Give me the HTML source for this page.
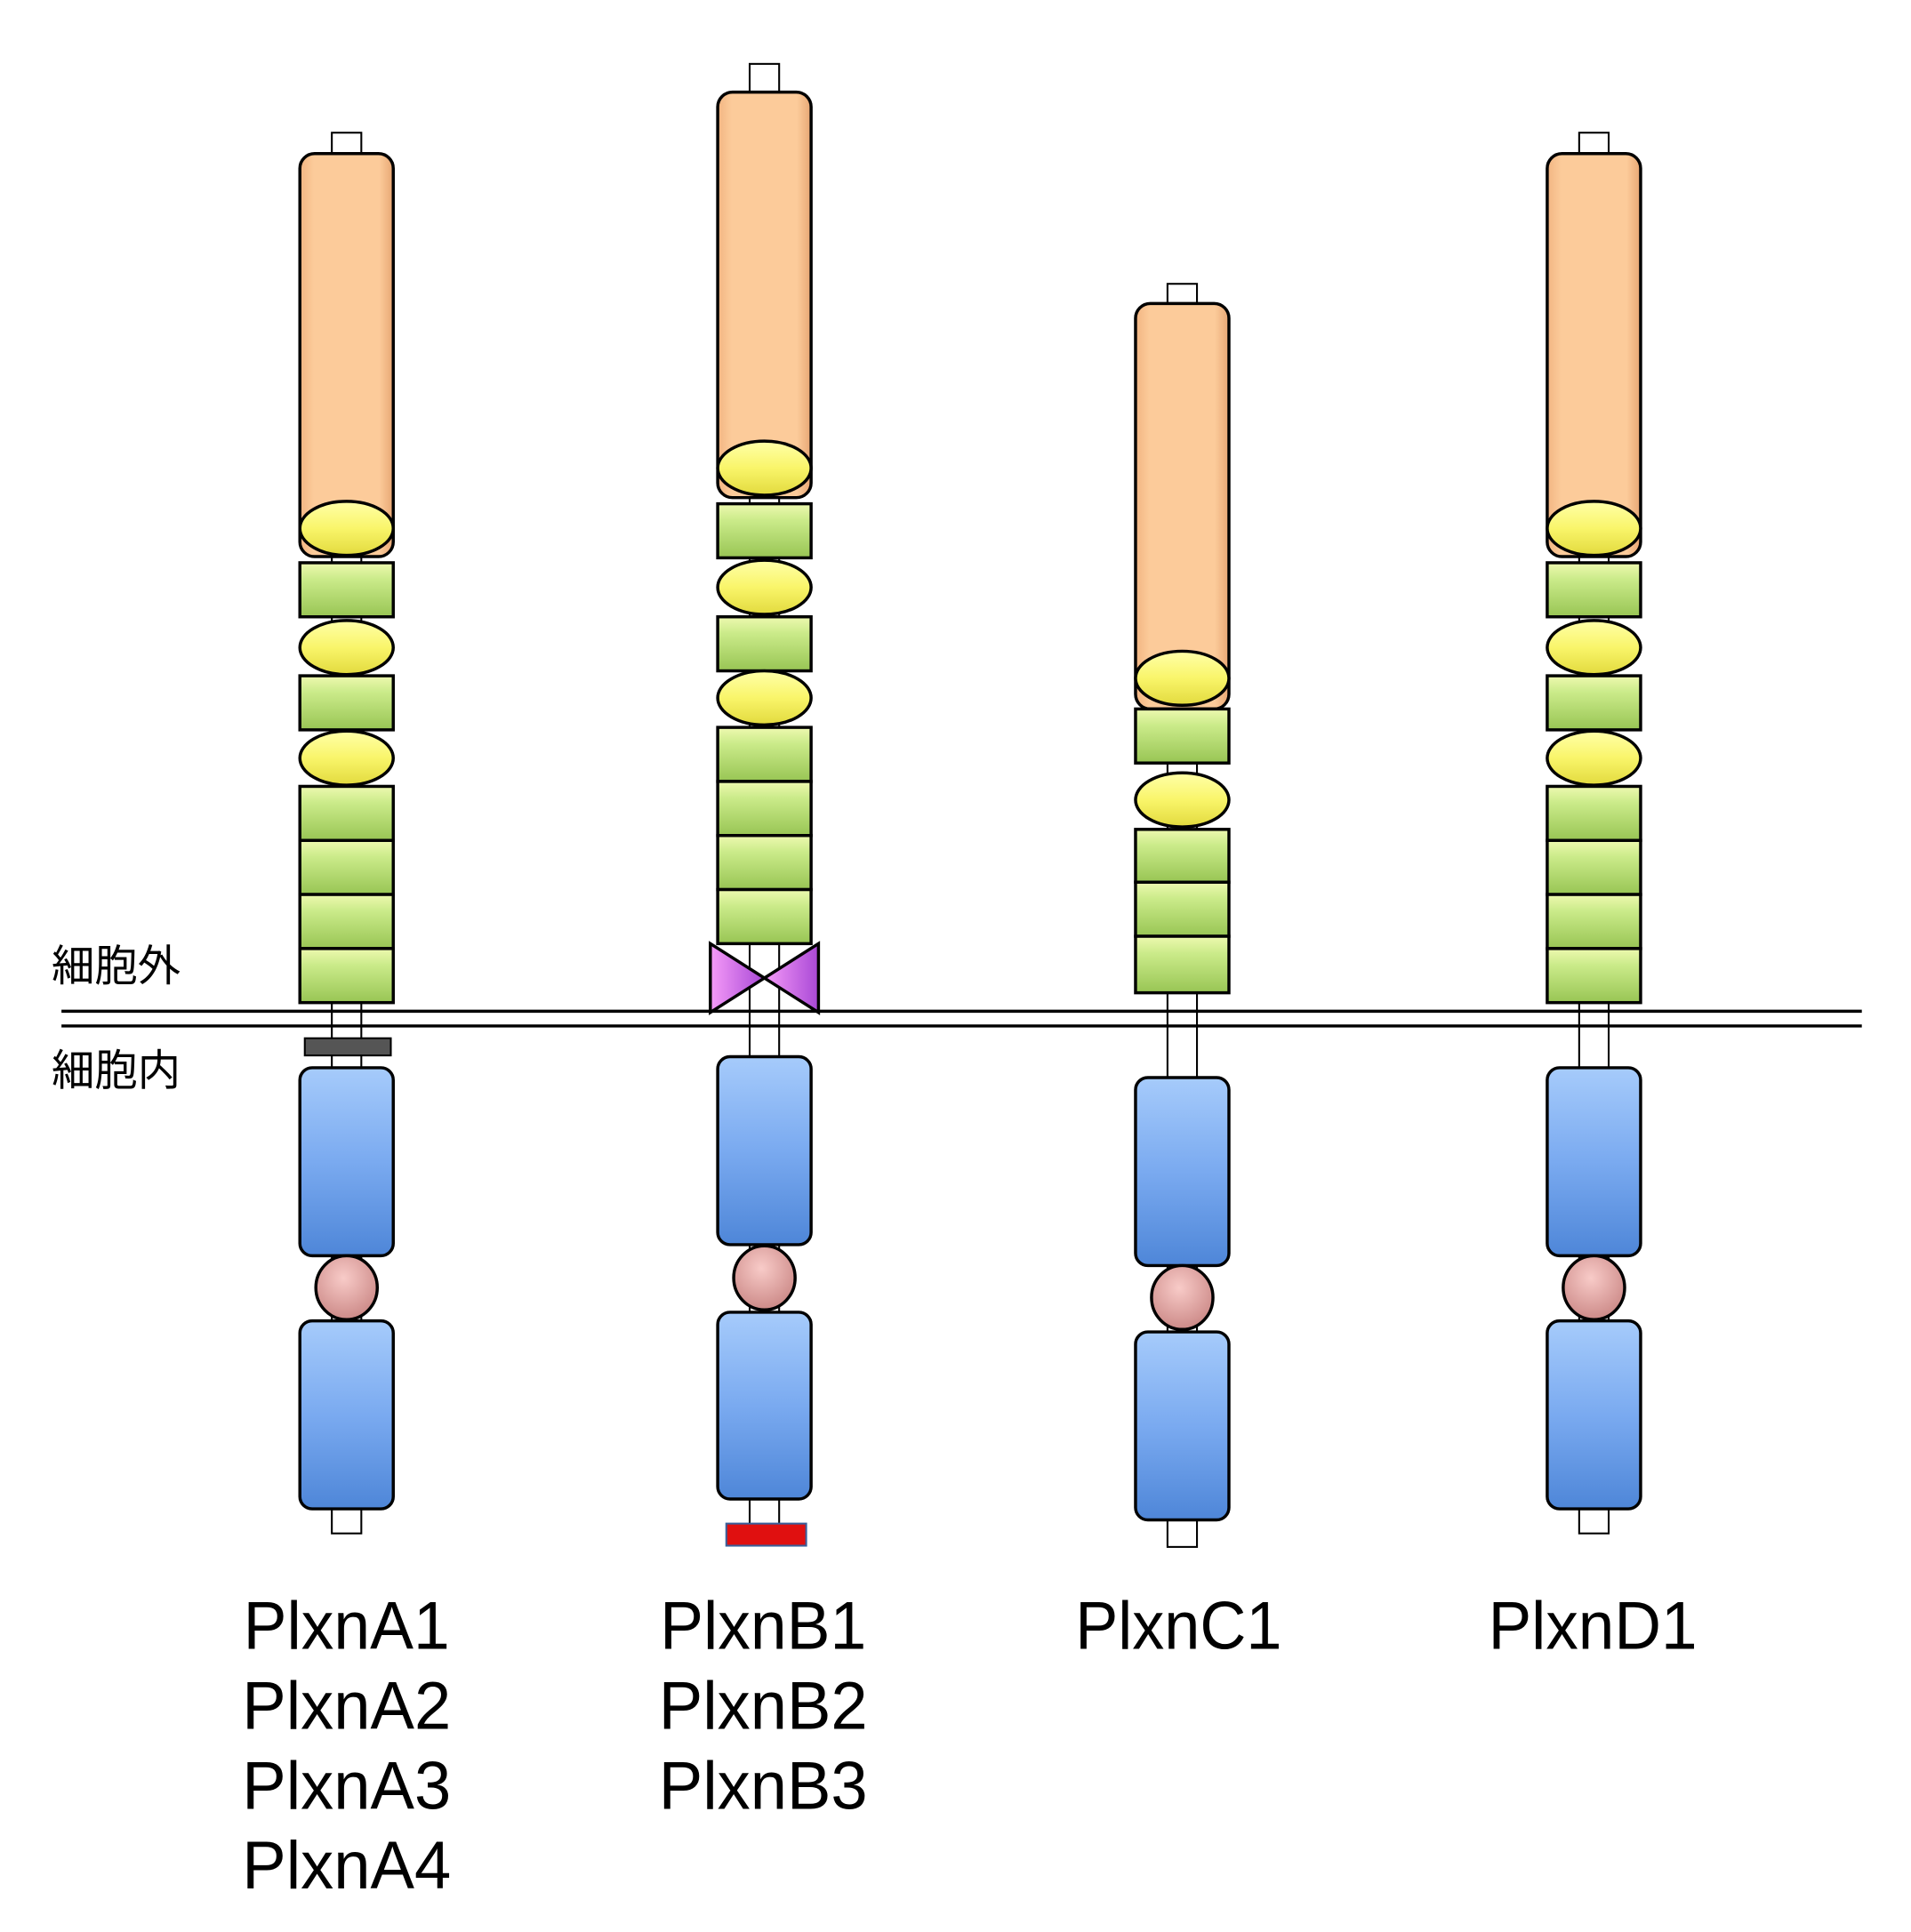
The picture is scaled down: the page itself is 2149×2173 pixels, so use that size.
<!DOCTYPE html>
<html><head><meta charset="utf-8"><style>html,body{margin:0;padding:0;background:#fff}svg{display:block}</style></head>
<body>
<svg width="2149" height="2173" viewBox="0 0 1555 1572.4" xmlns="http://www.w3.org/2000/svg">
<defs>
<linearGradient id="or" x1="0" y1="0" x2="1" y2="0"><stop offset="0" stop-color="#F2B582"/><stop offset="0.15" stop-color="#FCCB9A"/><stop offset="0.85" stop-color="#FCCB9A"/><stop offset="1" stop-color="#E7A673"/></linearGradient>
<linearGradient id="gr" x1="0" y1="0" x2="0" y2="1"><stop offset="0" stop-color="#EEF9B0"/><stop offset="0.3" stop-color="#CBEB8A"/><stop offset="1" stop-color="#98C554"/></linearGradient>
<linearGradient id="bl" x1="0" y1="0" x2="0" y2="1"><stop offset="0" stop-color="#A6CBFB"/><stop offset="0.5" stop-color="#7AAAF0"/><stop offset="1" stop-color="#4E86D8"/></linearGradient>
<linearGradient id="ye" x1="0" y1="0" x2="0" y2="1"><stop offset="0" stop-color="#FFFFA8"/><stop offset="0.5" stop-color="#F9F56A"/><stop offset="1" stop-color="#E2DA3E"/></linearGradient>
<radialGradient id="pk" cx="0.45" cy="0.35" r="0.7"><stop offset="0" stop-color="#F8CBC8"/><stop offset="1" stop-color="#C98583"/></radialGradient>
<linearGradient id="pu" x1="0" y1="0" x2="1" y2="0"><stop offset="0" stop-color="#F59BF8"/><stop offset="1" stop-color="#A948D6"/></linearGradient>
</defs>
<g stroke="#000" stroke-width="2.5">
<!-- Column A -->
<g transform="translate(282,0)">
<rect x="-12" y="108" width="24" height="1140" fill="#fff" stroke-width="1.5"/>
<rect x="-38" y="125" width="76" height="328" rx="12" fill="url(#or)"/>
<ellipse cx="0" cy="430" rx="38" ry="22" fill="url(#ye)"/>
<rect x="-38" y="458" width="76" height="44" fill="url(#gr)"/>
<ellipse cx="0" cy="527" rx="38" ry="22" fill="url(#ye)"/>
<rect x="-38" y="550" width="76" height="44" fill="url(#gr)"/>
<ellipse cx="0" cy="617" rx="38" ry="22" fill="url(#ye)"/>
<rect x="-38" y="640" width="76" height="44" fill="url(#gr)"/>
<rect x="-38" y="684" width="76" height="44" fill="url(#gr)"/>
<rect x="-38" y="728" width="76" height="44" fill="url(#gr)"/>
<rect x="-38" y="772" width="76" height="44" fill="url(#gr)"/>
<rect x="-34" y="845" width="70" height="14" fill="#555" stroke-width="1.5"/>
<rect x="-38" y="869" width="76" height="153" rx="10" fill="url(#bl)"/>
<ellipse cx="0" cy="1048" rx="25" ry="26" fill="url(#pk)"/>
<rect x="-38" y="1075" width="76" height="153" rx="10" fill="url(#bl)"/>
</g>
<!-- Column B -->
<g transform="translate(622,0)">
<rect x="-12" y="52" width="24" height="1190" fill="#fff" stroke-width="1.5"/>
<rect x="-38" y="75" width="76" height="330" rx="12" fill="url(#or)"/>
<ellipse cx="0" cy="381" rx="38" ry="22" fill="url(#ye)"/>
<rect x="-38" y="410" width="76" height="44" fill="url(#gr)"/>
<ellipse cx="0" cy="478" rx="38" ry="22" fill="url(#ye)"/>
<rect x="-38" y="502" width="76" height="44" fill="url(#gr)"/>
<ellipse cx="0" cy="568" rx="38" ry="22" fill="url(#ye)"/>
<rect x="-38" y="592" width="76" height="44" fill="url(#gr)"/>
<rect x="-38" y="636" width="76" height="44" fill="url(#gr)"/>
<rect x="-38" y="680" width="76" height="44" fill="url(#gr)"/>
<rect x="-38" y="724" width="76" height="44" fill="url(#gr)"/>
<polygon points="-44,768 0,796 -44,824" fill="url(#pu)"/>
<polygon points="44,768 0,796 44,824" fill="url(#pu)"/>
<rect x="-38" y="860" width="76" height="153" rx="10" fill="url(#bl)"/>
<ellipse cx="0" cy="1040" rx="25" ry="26" fill="url(#pk)"/>
<rect x="-38" y="1068" width="76" height="152" rx="10" fill="url(#bl)"/>
<rect x="-31" y="1240" width="65" height="18" fill="#E01010" stroke="#3A5F9A" stroke-width="1.5"/>
</g>
<!-- Column C -->
<g transform="translate(962,0)">
<rect x="-12" y="231" width="24" height="1028" fill="#fff" stroke-width="1.5"/>
<rect x="-38" y="247" width="76" height="330" rx="12" fill="url(#or)"/>
<ellipse cx="0" cy="552" rx="38" ry="22" fill="url(#ye)"/>
<rect x="-38" y="577" width="76" height="44" fill="url(#gr)"/>
<ellipse cx="0" cy="651" rx="38" ry="22" fill="url(#ye)"/>
<rect x="-38" y="675" width="76" height="43" fill="url(#gr)"/>
<rect x="-38" y="718" width="76" height="44" fill="url(#gr)"/>
<rect x="-38" y="762" width="76" height="46" fill="url(#gr)"/>
<rect x="-38" y="877" width="76" height="153" rx="10" fill="url(#bl)"/>
<ellipse cx="0" cy="1056" rx="25" ry="26" fill="url(#pk)"/>
<rect x="-38" y="1084" width="76" height="153" rx="10" fill="url(#bl)"/>
</g>
<!-- Column D -->
<g transform="translate(1297,0)">
<rect x="-12" y="108" width="24" height="1140" fill="#fff" stroke-width="1.5"/>
<rect x="-38" y="125" width="76" height="328" rx="12" fill="url(#or)"/>
<ellipse cx="0" cy="430" rx="38" ry="22" fill="url(#ye)"/>
<rect x="-38" y="458" width="76" height="44" fill="url(#gr)"/>
<ellipse cx="0" cy="527" rx="38" ry="22" fill="url(#ye)"/>
<rect x="-38" y="550" width="76" height="44" fill="url(#gr)"/>
<ellipse cx="0" cy="617" rx="38" ry="22" fill="url(#ye)"/>
<rect x="-38" y="640" width="76" height="44" fill="url(#gr)"/>
<rect x="-38" y="684" width="76" height="44" fill="url(#gr)"/>
<rect x="-38" y="728" width="76" height="44" fill="url(#gr)"/>
<rect x="-38" y="772" width="76" height="44" fill="url(#gr)"/>
<rect x="-38" y="869" width="76" height="153" rx="10" fill="url(#bl)"/>
<ellipse cx="0" cy="1048" rx="25" ry="26" fill="url(#pk)"/>
<rect x="-38" y="1075" width="76" height="153" rx="10" fill="url(#bl)"/>
</g>
<line x1="50" y1="823" x2="1515" y2="823"/>
<line x1="50" y1="835" x2="1515" y2="835"/>
</g>
<g font-family="'Noto Sans CJK JP', sans-serif" font-size="35" fill="#000">
<text x="42" y="798">細胞外</text>
<text x="42" y="883">細胞内</text>
</g>
<g font-family="'Liberation Sans', sans-serif" font-size="55" fill="#000" text-anchor="middle">
<text x="282" y="1342" textLength="168" lengthAdjust="spacingAndGlyphs">PlxnA1</text>
<text x="282" y="1407" textLength="170" lengthAdjust="spacingAndGlyphs">PlxnA2</text>
<text x="282" y="1472" textLength="170" lengthAdjust="spacingAndGlyphs">PlxnA3</text>
<text x="282" y="1537" textLength="170" lengthAdjust="spacingAndGlyphs">PlxnA4</text>
<text x="621" y="1342" textLength="168" lengthAdjust="spacingAndGlyphs">PlxnB1</text>
<text x="621" y="1407" textLength="170" lengthAdjust="spacingAndGlyphs">PlxnB2</text>
<text x="621" y="1472" textLength="170" lengthAdjust="spacingAndGlyphs">PlxnB3</text>
<text x="959" y="1342" textLength="168" lengthAdjust="spacingAndGlyphs">PlxnC1</text>
<text x="1296" y="1342" textLength="170" lengthAdjust="spacingAndGlyphs">PlxnD1</text>
</g>
</svg>
</body></html>
